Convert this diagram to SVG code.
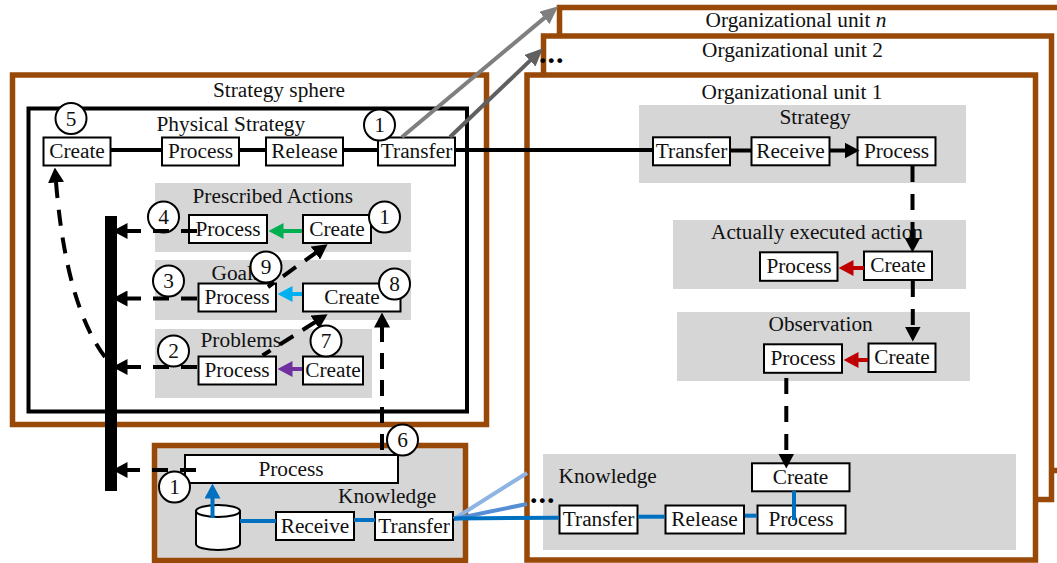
<svg xmlns="http://www.w3.org/2000/svg" width="1057" height="563" viewBox="0 0 1057 563">
<style>
text{font-family:"Liberation Serif","Times New Roman",serif;font-size:21.33px;fill:#111}
.m{text-anchor:middle}
.unit{fill:#fff;stroke:#984807;stroke-width:5.5}
.grey{fill:#d6d6d6}
.box{fill:#fff;stroke:#000;stroke-width:2}
.c{fill:#fff;stroke:#000;stroke-width:2}
line,path.l{fill:none}
.k{stroke:#000;stroke-width:4}
.d{stroke:#000;stroke-width:4;stroke-dasharray:16 12}
.b{stroke:#0070c0;stroke-width:4}
.dots{font-size:30px;font-weight:bold;letter-spacing:1px;fill:#000}
</style>
<defs>
<marker id="ak" markerUnits="userSpaceOnUse" markerWidth="15" markerHeight="16" refX="0.5" refY="8" orient="auto"><path d="M0,0L15,8L0,16z" fill="#000"/></marker>
<marker id="ab" markerUnits="userSpaceOnUse" markerWidth="15" markerHeight="16" refX="0.5" refY="8" orient="auto"><path d="M0,0L15,8L0,16z" fill="#0070c0"/></marker>
<marker id="ag" markerUnits="userSpaceOnUse" markerWidth="15" markerHeight="16" refX="0.5" refY="8" orient="auto"><path d="M0,0L15,8L0,16z" fill="#00b050"/></marker>
<marker id="ac" markerUnits="userSpaceOnUse" markerWidth="15" markerHeight="16" refX="0.5" refY="8" orient="auto"><path d="M0,0L15,8L0,16z" fill="#00b0f0"/></marker>
<marker id="ap" markerUnits="userSpaceOnUse" markerWidth="15" markerHeight="16" refX="0.5" refY="8" orient="auto"><path d="M0,0L15,8L0,16z" fill="#7030a0"/></marker>
<marker id="ar" markerUnits="userSpaceOnUse" markerWidth="15" markerHeight="16" refX="0.5" refY="8" orient="auto"><path d="M0,0L15,8L0,16z" fill="#c00000"/></marker>
<marker id="a7" markerUnits="userSpaceOnUse" markerWidth="18" markerHeight="16" refX="0.5" refY="8" orient="auto"><path d="M0,0L18,8L0,16z" fill="#7f7f7f"/></marker>
<marker id="a5" markerUnits="userSpaceOnUse" markerWidth="18" markerHeight="16" refX="0.5" refY="8" orient="auto"><path d="M0,0L18,8L0,16z" fill="#606060"/></marker>
</defs>

<g id="containers">
<g id="unit-n"><rect class="unit" x="559.5" y="7.5" width="520" height="463"/><text class="m" x="796" y="27">Organizational unit <tspan font-style="italic">n</tspan></text></g>
<g id="unit-2"><rect class="unit" x="543.5" y="36" width="508" height="463.5"/><text class="m" x="792.5" y="57">Organizational unit 2</text><text class="dots" x="539" y="63">...</text></g>
<g id="unit-1"><rect class="unit" x="527" y="75" width="508.5" height="485"/><text class="m" x="792" y="99">Organizational unit 1</text></g>
<g id="strategy-sphere"><rect x="12.5" y="75" width="474" height="349.5" fill="#fff" stroke="#984807" stroke-width="5.5"/><text class="m" x="279" y="97">Strategy sphere</text></g>
<rect id="physical-strategy" x="28.5" y="108.5" width="438.5" height="303" fill="none" stroke="#000" stroke-width="4"/>
<text x="156.5" y="131">Physical Strategy</text>
<g id="prescribed-actions"><rect class="grey" x="155" y="183" width="256" height="69"/><text x="192.5" y="203">Prescribed Actions</text></g>
<g id="goals"><rect class="grey" x="155" y="260" width="256" height="60"/><text x="211.5" y="280">Goals</text></g>
<g id="problems"><rect class="grey" x="155" y="329" width="217" height="69"/><text x="200.5" y="347">Problems</text></g>
<g id="knowledge-left"><rect x="154.5" y="445.5" width="311" height="115" fill="#d6d6d6" stroke="#984807" stroke-width="5.5"/><text x="338" y="503">Knowledge</text></g>
<g id="strategy-unit"><rect class="grey" x="639" y="105" width="327" height="78"/><text x="779.5" y="124">Strategy</text></g>
<g id="executed"><rect class="grey" x="673" y="220" width="293" height="69"/><text x="711" y="239">Actually executed action</text></g>
<g id="observation"><rect class="grey" x="677" y="312" width="293" height="69"/><text x="768.5" y="331">Observation</text></g>
<g id="knowledge-unit"><rect class="grey" x="543" y="454" width="473" height="96"/><text x="558.5" y="483">Knowledge</text><text class="dots" x="530" y="503">...</text></g>
</g>

<g id="nodes">
<g id="ps-create"><rect class="box" x="43.5" y="137.5" width="67" height="28"/><text class="m" x="77" y="158">Create</text></g>
<g id="ps-process"><rect class="box" x="162" y="137.5" width="77" height="28"/><text class="m" x="200.5" y="158">Process</text></g>
<g id="ps-release"><rect class="box" x="266" y="137.5" width="77" height="28"/><text class="m" x="304.5" y="158">Release</text></g>
<g id="ps-transfer"><rect class="box" x="378" y="137.5" width="77" height="28"/><text class="m" x="416.5" y="158">Transfer</text></g>
<g id="pa-process"><rect class="box" x="189" y="215" width="78" height="28"/><text class="m" x="228" y="236">Process</text></g>
<g id="pa-create"><rect class="box" x="303" y="215" width="68" height="28"/><text class="m" x="337" y="236">Create</text></g>
<g id="go-process"><rect class="box" x="198.5" y="283.5" width="77.5" height="28"/><text class="m" x="237" y="304">Process</text></g>
<g id="go-create"><rect class="box" x="303" y="283.5" width="97.5" height="28"/><text class="m" x="352" y="304">Create</text></g>
<g id="pr-process"><rect class="box" x="198.5" y="356.5" width="77.5" height="28"/><text class="m" x="237" y="377">Process</text></g>
<g id="pr-create"><rect class="box" x="303" y="356.5" width="60" height="28"/><text class="m" x="333" y="377">Create</text></g>
<g id="kn-process"><rect class="box" x="185" y="455" width="213" height="28"/><text class="m" x="291" y="476">Process</text></g>
<g id="kn-db"><path d="M196,511v33a22,6 0 0 0 44,0v-33z" fill="#fff" stroke="#000" stroke-width="2"/><ellipse cx="218" cy="511" rx="22" ry="6" fill="#fff" stroke="#000" stroke-width="2"/></g>
<g id="kn-receive"><rect class="box" x="276" y="512" width="78" height="28"/><text class="m" x="315" y="533">Receive</text></g>
<g id="kn-transfer"><rect class="box" x="375" y="512" width="78" height="28"/><text class="m" x="414" y="533">Transfer</text></g>
<g id="st-transfer"><rect class="box" x="653" y="137.3" width="77" height="28"/><text class="m" x="691.5" y="158">Transfer</text></g>
<g id="st-receive"><rect class="box" x="751.5" y="137.3" width="78" height="28"/><text class="m" x="790.5" y="158">Receive</text></g>
<g id="st-process"><rect class="box" x="857.5" y="137.3" width="78" height="28"/><text class="m" x="896.5" y="158">Process</text></g>
<g id="ex-process"><rect class="box" x="760" y="252.3" width="77.5" height="28.5"/><text class="m" x="799" y="273">Process</text></g>
<g id="ex-create"><rect class="box" x="864" y="251.5" width="68" height="28.5"/><text class="m" x="898" y="272">Create</text></g>
<g id="ob-process"><rect class="box" x="764" y="344.3" width="78" height="28.5"/><text class="m" x="803" y="365">Process</text></g>
<g id="ob-create"><rect class="box" x="868.5" y="343.5" width="67" height="28.5"/><text class="m" x="902" y="364">Create</text></g>
<g id="ku-create"><rect class="box" x="752" y="463.3" width="97.5" height="28"/><text class="m" x="800.5" y="484">Create</text></g>
<g id="ku-transfer"><rect class="box" x="559.5" y="505.5" width="78" height="28"/><text class="m" x="598.5" y="526">Transfer</text></g>
<g id="ku-release"><rect class="box" x="665.5" y="505.5" width="78.5" height="28"/><text class="m" x="704.5" y="526">Release</text></g>
<g id="ku-process"><rect class="box" x="757.5" y="505.5" width="88" height="28"/><text class="m" x="801" y="526">Process</text></g>
<g id="n4"><circle class="c" cx="163.5" cy="217" r="15.5"/><text class="m" x="163.5" y="224">4</text></g>
<g id="n2"><circle class="c" cx="173.5" cy="351" r="15.5"/><text class="m" x="173.5" y="358">2</text></g>
<g id="n1c"><circle class="c" cx="174.5" cy="487" r="15.5"/><text class="m" x="174.5" y="494">1</text></g>
</g>

<g id="connectors">
<line class="k" x1="111" y1="150" x2="161" y2="150"/>
<line class="k" x1="240" y1="150" x2="265" y2="150"/>
<line class="k" x1="344" y1="150" x2="377" y2="150"/>
<line class="k" x1="456" y1="150" x2="652" y2="150"/>
<line class="k" x1="731" y1="150.5" x2="751" y2="150.5"/>
<line class="k" x1="830" y1="150.5" x2="845" y2="150.5" marker-end="url(#ak)"/>
<line x1="402" y1="137" x2="544.8" y2="17.6" stroke="#7f7f7f" stroke-width="4" marker-end="url(#a7)"/>
<line x1="450" y1="137" x2="530.3" y2="60.4" stroke="#606060" stroke-width="4" marker-end="url(#a5)"/>
<line x1="302" y1="231" x2="283" y2="231" stroke="#00b050" stroke-width="4" marker-end="url(#ag)"/>
<line x1="302" y1="294" x2="292" y2="294" stroke="#00b0f0" stroke-width="4" marker-end="url(#ac)"/>
<line x1="302" y1="369" x2="292" y2="369" stroke="#7030a0" stroke-width="4" marker-end="url(#ap)"/>
<line x1="864" y1="268" x2="853" y2="268" stroke="#c00000" stroke-width="4" marker-end="url(#ar)"/>
<line x1="868" y1="360" x2="858" y2="360" stroke="#c00000" stroke-width="4" marker-end="url(#ar)"/>
<line class="d" x1="197" y1="231" x2="127" y2="231" marker-end="url(#ak)"/>
<line class="d" x1="197" y1="298.5" x2="127" y2="298.5" marker-end="url(#ak)"/>
<line class="d" x1="197" y1="367" x2="127" y2="367" marker-end="url(#ak)"/>
<line class="d" x1="196" y1="470" x2="127" y2="470" marker-end="url(#ak)"/>
<path class="l d" d="M105,357Q66,305 56,182" marker-end="url(#ak)"/>
<line class="d" x1="268" y1="287" x2="315.8" y2="252.8" stroke-dashoffset="8.6" style="stroke-dasharray:16 11" marker-end="url(#ak)"/>
<line class="d" x1="262.5" y1="355.5" x2="315.3" y2="322" stroke-dashoffset="6.5" style="stroke-dasharray:16 11" marker-end="url(#ak)"/>
<line class="d" x1="382" y1="450" x2="382" y2="327" style="stroke-dasharray:16 11" marker-end="url(#ak)"/>
<line class="d" x1="912.5" y1="166" x2="912.5" y2="238" marker-end="url(#ak)"/>
<line class="d" x1="912.8" y1="281" x2="912.8" y2="327" marker-end="url(#ak)"/>
<line class="d" x1="786.3" y1="378" x2="786.3" y2="454" marker-end="url(#ak)"/>
<line class="b" x1="212.5" y1="518" x2="212.5" y2="498" marker-end="url(#ab)"/>
<line class="b" x1="240" y1="521" x2="276" y2="521"/>
<line class="b" x1="354" y1="520" x2="375" y2="520"/>
<line x1="454" y1="519" x2="527" y2="473" stroke="#8eb4e3" stroke-width="4"/>
<line x1="454" y1="519" x2="527" y2="504" stroke="#558ed5" stroke-width="4"/>
<line class="b" x1="454" y1="518.5" x2="559" y2="517.7"/>
<line class="b" x1="638" y1="516.7" x2="665" y2="516.7"/>
<line class="b" x1="745" y1="515.7" x2="757" y2="515.7"/>
<line class="b" x1="794" y1="491" x2="794" y2="520"/>
</g>
<rect id="bus" x="105" y="216" width="12" height="275" fill="#000"/>

<g id="markers">
<g id="n5"><circle class="c" cx="71" cy="118.5" r="15.5"/><text class="m" x="71" y="125.5">5</text></g>
<g id="n1a"><circle class="c" cx="379.5" cy="125" r="15.5"/><text class="m" x="379.5" y="132">1</text></g>
<g id="n1b"><circle class="c" cx="384.5" cy="217" r="15.5"/><text class="m" x="384.5" y="224">1</text></g>
<g id="n3"><circle class="c" cx="168.5" cy="281" r="15.5"/><text class="m" x="168.5" y="288">3</text></g>
<g id="n9"><circle class="c" cx="266" cy="267" r="15.5"/><text class="m" x="266" y="274">9</text></g>
<g id="n8"><circle class="c" cx="394.5" cy="284" r="15.5"/><text class="m" x="394.5" y="291">8</text></g>
<g id="n7"><circle class="c" cx="326" cy="341" r="15.5"/><text class="m" x="326" y="348">7</text></g>
<g id="n6"><circle class="c" cx="402.5" cy="440" r="15.5"/><text class="m" x="402.5" y="447">6</text></g>
</g>
</svg>
